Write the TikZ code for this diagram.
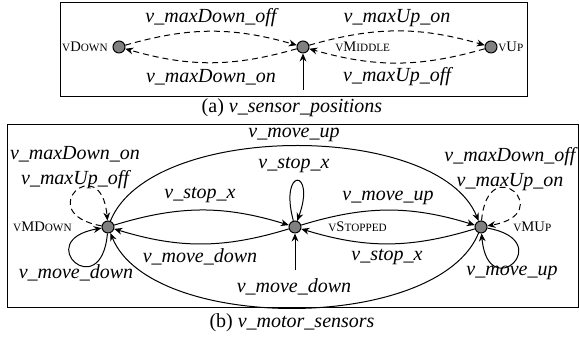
\documentclass[tikz,border=0pt]{standalone}
\usepackage{fontspec}
\setmainfont{Liberation Serif}
\usetikzlibrary{arrows.meta}
\definecolor{nodegray}{RGB}{128,128,128}
\newcommand{\smc}[1]{{\fontsize{5.6}{6}\selectfont #1}}
\begin{document}
\begin{tikzpicture}[x=0.5pt,y=0.5pt,
  st/.style={circle, draw=black, fill=nodegray, minimum size=6pt, inner sep=0pt, line width=0.5pt},
  tr/.style={-{Stealth[length=4pt,width=3.4pt,inset=1.3pt]}, line width=0.5pt},
  dtr/.style={tr, dash pattern=on 3pt off 2pt},
  el/.style={font=\fontsize{10}{12.5}\selectfont\itshape, inner sep=0pt, align=center},
  nl/.style={font=\fontsize{7.3}{8}\selectfont, inner sep=0pt},
  captxt/.style={font=\fontsize{10}{12}\selectfont, inner sep=0pt},
  box/.style={draw, line width=0.5pt}]
\useasboundingbox (0,0) rectangle (579,340);
% ---------- (a) ----------
\draw[box] (60,243) rectangle (527,337);
\node[st] (down) at (119,293) {};
\node[st] (mid) at (303,293) {};
\node[st] (up) at (491,293) {};
\node[nl,anchor=east] (ldown) at (108,293) {\smc{V}D\smc{OWN}};
\node[nl,anchor=west] (lmid) at (335,293) {\smc{V}M\smc{IDDLE}};
\node[nl,anchor=west] (lup) at (498,293) {\smc{V}U\smc{P}};
\coordinate (inA) at (303,250);
\draw[tr] (inA) -- (mid);
\draw[dtr] (down) to[bend left=16] (mid);
\draw[dtr] (mid) to[bend left=16] (down);
\draw[dtr] (mid) to[bend left=16] (up);
\draw[dtr] (up) to[bend left=16] (mid);
\node[el] (e1) at (211,322) {v\_maxDown\_off};
\node[el] (e2) at (211,263) {v\_maxDown\_on};
\node[el] (e3) at (397,322) {v\_maxUp\_on};
\node[el] (e4) at (397,263) {v\_maxUp\_off};
\node[captxt] (capa) at (292,232) {(a) \textit{v\_sensor\_positions}};
% ---------- (b) ----------
\draw[box] (7,32) rectangle (578,215);
\node[st] (md) at (108,113) {};
\node[st] (sp) at (295,113) {};
\node[st] (mu) at (481,113) {};
\node[nl,anchor=east] (lmd) at (72,113) {\smc{V}MD\smc{OWN}};
\node[nl,anchor=west] (lsp) at (328,113) {\smc{V}S\smc{TOPPED}};
\node[nl,anchor=west] (lmu) at (513,113) {\smc{V}MU\smc{P}};
\draw[tr] (md) to[out=68,in=112,looseness=0.75] (mu);
\draw[tr] (mu) to[out=-112,in=-68,looseness=0.75] (md);
\draw[tr] (md) to[bend left=17] (sp);
\draw[tr] (sp) to[bend left=17] (md);
\draw[tr] (sp) to[bend left=17] (mu);
\draw[tr] (mu) to[bend left=17] (sp);
\draw[tr] (sp) to[out=105,in=70,looseness=8,min distance=28pt] (sp);
\draw[dtr] (md) to[out=170,in=95,looseness=8,min distance=36pt] (md);
\draw[tr] (md) to[out=-95,in=190,looseness=8,min distance=36pt] (md);
\draw[dtr] (mu) to[out=85,in=10,looseness=8,min distance=36pt] (mu);
\draw[tr] (mu) to[out=-10,in=-85,looseness=8,min distance=36pt] (mu);
\coordinate (inB) at (295,70);
\draw[tr] (inB) -- (sp);
\node[el] (b1) at (294,205) {v\_move\_up};
\node[el] (b2) at (294,175) {v\_stop\_x};
\node[el] (b3) at (200,145) {v\_stop\_x};
\node[el] (b4) at (388,142) {v\_move\_up};
\node[el] (b5) at (200,83) {v\_move\_down};
\node[el] (b6) at (387,83) {v\_stop\_x};
\node[el] (b7) at (294,53) {v\_move\_down};
\node[el] (b8) at (75,172) {v\_maxDown\_on\\v\_maxUp\_off};
\node[el] (b9) at (510,171) {v\_maxDown\_off\\v\_maxUp\_on};
\node[el] (b10) at (76,67) {v\_move\_down};
\node[el] (b11) at (512,67) {v\_move\_up};
\node[captxt] (capb) at (292,17) {(b) \textit{v\_motor\_sensors}};
\end{tikzpicture}
\end{document}
